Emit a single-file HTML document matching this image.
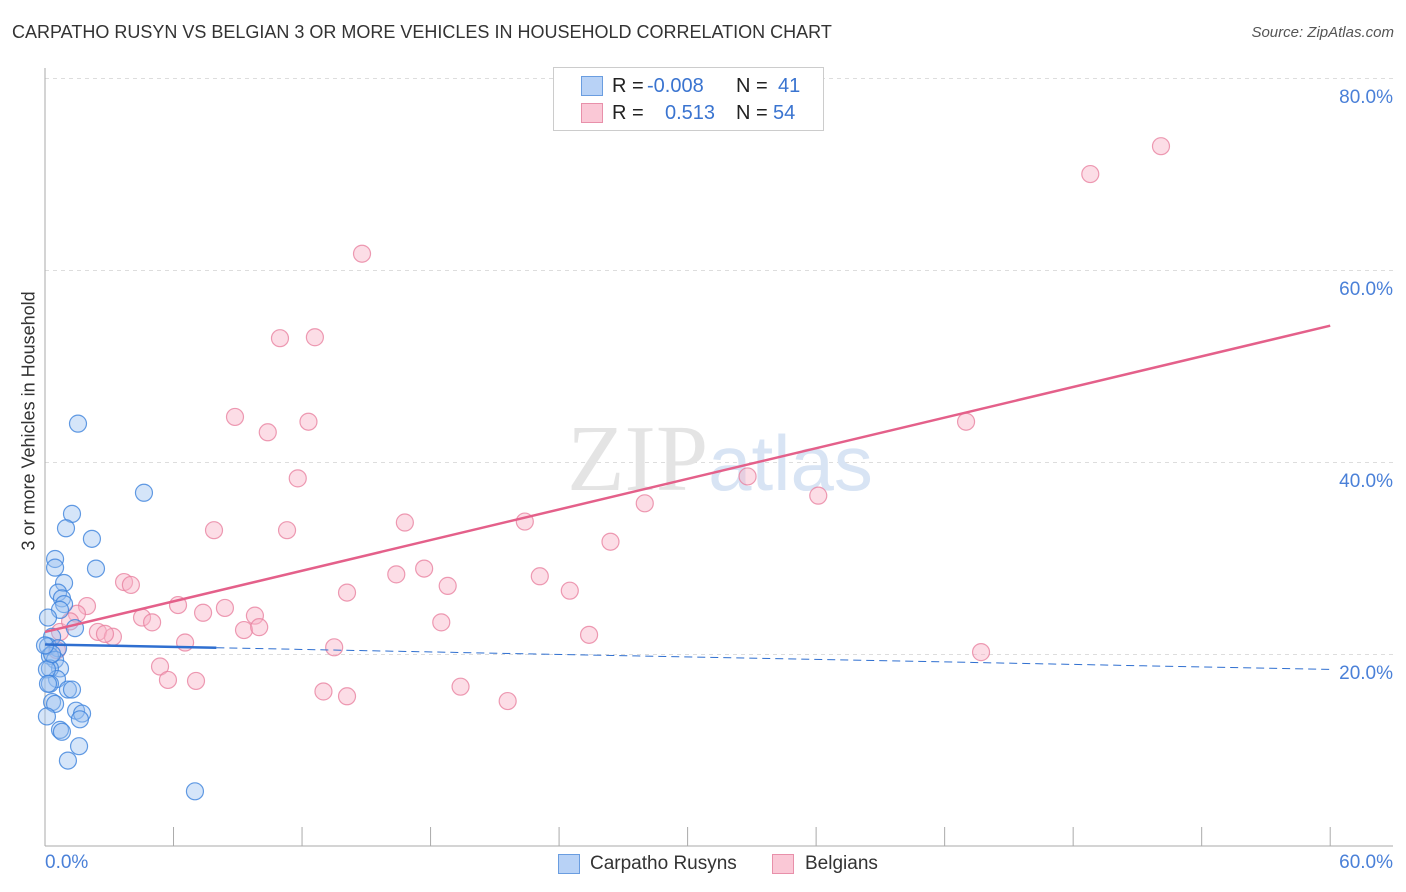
<!DOCTYPE html>
<html><head><meta charset="utf-8"><style>
body{margin:0;background:#fff;font-family:"Liberation Sans",sans-serif;}
#wrap{position:relative;width:1406px;height:892px;overflow:hidden;}
.t{position:absolute;white-space:nowrap;}
</style></head><body>
<div id="wrap">
<div class="t" style="left:12px;top:22px;font-size:18px;color:#333;">CARPATHO RUSYN VS BELGIAN 3 OR MORE VEHICLES IN HOUSEHOLD CORRELATION CHART</div>
<div class="t" style="right:12px;top:24px;font-size:15px;color:#555;font-style:italic;">Source: ZipAtlas.com</div>
<svg id="svg" width="1406" height="892" style="position:absolute;left:0;top:0"></svg>
</div>
<script>
const blueX=[1.54,4.62,1.26,0.98,2.19,0.47,0.47,2.38,0.89,0.61,0.79,0.89,0.70,0.14,1.40,0.33,0.14,0.61,0.23,0.47,0.70,0.23,0.56,1.07,1.26,0.33,0.47,0.09,1.45,1.73,1.63,0.70,0.79,1.59,1.07,7.00,0.09,0.33,0.00,0.23,0.14];
const blueY=[44.1,36.9,34.7,33.2,32.1,30.0,29.1,29.0,27.5,26.5,25.9,25.3,24.7,23.9,22.8,21.9,20.9,20.7,19.9,19.5,18.6,18.6,17.5,16.4,16.4,15.1,14.9,13.6,14.2,13.9,13.3,12.2,12.0,10.5,9.0,5.8,18.5,20.1,21.0,17.0,17.0];
const pinkX=[14.8,48.8,52.1,10.97,12.6,8.87,10.4,12.3,43.0,11.8,7.89,11.3,16.8,22.4,32.8,28.0,36.1,26.4,17.7,16.4,18.8,23.1,24.5,14.1,3.69,4.01,1.96,1.49,6.21,7.38,8.40,9.80,4.53,5.00,9.29,10.0,2.47,3.17,2.80,6.54,13.5,18.5,25.4,43.7,5.37,5.74,7.05,13.0,14.1,19.4,21.6,0.70,0.56,1.17];
const pinkY=[61.8,70.1,73.0,53.0,53.1,44.8,43.2,44.3,44.3,38.4,33.0,33.0,33.8,33.9,38.6,35.8,36.6,31.8,29.0,28.4,27.2,28.2,26.7,26.5,27.6,27.3,25.1,24.3,25.2,24.4,24.9,24.1,23.9,23.4,22.6,22.9,22.4,21.9,22.2,21.3,20.8,23.4,22.1,20.3,18.8,17.4,17.3,16.2,15.7,16.7,15.2,22.4,20.5,23.5];
const pinkTrend=[22.4,54.3];
const blueTrend=[21.1,18.5];
const blueSolidEnd=8.0;
const xTicks=[0,6,12,18,24,30,36,42,48,54,60];
const yTicks=[20,40,60,80];
const yTickLabels=["20.0%","40.0%","60.0%","80.0%"];
const X=v=>45+v*21.42, Y=v=>847-v*9.6;
const NS="http://www.w3.org/2000/svg",svg=document.getElementById('svg');
function mk(t,a){const e=document.createElementNS(NS,t);for(const k in a)e.setAttribute(k,a[k]);svg.appendChild(e);return e;}
yTicks.forEach((v,i)=>{
 let g=mk('line',{x1:45,x2:1393,y1:Y(v)-0.5,y2:Y(v)-0.5,stroke:'#ddd','stroke-dasharray':'4,4'});
 
 
 let t=mk('text',{x:1393,y:Y(v)+24,'text-anchor':'end','font-size':19,fill:'#4a80d8','font-family':'Liberation Sans'});
 t.textContent=yTickLabels[i];
 
 
});
let ax=mk('line',{x1:45,x2:45,y1:68,y2:846,stroke:'#aaa'});


let bx=mk('line',{x1:45,x2:1393,y1:846,y2:846,stroke:'#aaa'});


xTicks.forEach(v=>{
 let l=mk('line',{x1:X(v),x2:X(v),y1:827,y2:846,stroke:'#aaa'});
 
 
});
let wm=mk('text',{x:720,y:490,'text-anchor':'middle','font-size':94,fill:'#e4e4e4','font-family':'Liberation Serif'});
wm.innerHTML='ZIP<tspan font-family="Liberation Sans" fill="#d8e4f4" font-size="78">atlas</tspan>';


pinkX.forEach((x,i)=>{
 let c=mk('circle',{cx:X(x),cy:Y(pinkY[i]),r:8.5,fill:'rgba(248,180,200,0.45)',stroke:'rgba(232,130,160,0.8)','stroke-width':1.2});
 
 
});
blueX.forEach((x,i)=>{
 let c=mk('circle',{cx:X(x),cy:Y(blueY[i]),r:8.5,fill:'rgba(150,190,240,0.4)',stroke:'rgba(60,130,220,0.8)','stroke-width':1.2});
 
 
});
const bAt=x=>blueTrend[0]+(blueTrend[1]-blueTrend[0])*x/60;
let pl=mk('line',{x1:X(0),y1:Y(pinkTrend[0]),x2:X(60),y2:Y(pinkTrend[1]),stroke:'#e4608a','stroke-width':2.5});


let bl=mk('line',{x1:X(0),y1:Y(bAt(0)),x2:X(blueSolidEnd),y2:Y(bAt(blueSolidEnd)),stroke:'#2f6fd0','stroke-width':2.5});


let bd=mk('line',{x1:X(blueSolidEnd),y1:Y(bAt(blueSolidEnd)),x2:X(60),y2:Y(bAt(60)),stroke:'#2f6fd0','stroke-width':1,'stroke-dasharray':'8,5'});


</script>
<div class="t" style="left:45px;top:852px;font-size:19px;color:#4a80d8;">0.0%</div>
<div class="t" style="right:13px;top:852px;font-size:19px;color:#4a80d8;">60.0%</div>
<div class="t" style="left:-66px;top:445px;font-size:18px;color:#333;transform:rotate(-90deg);transform-origin:center;width:190px;">3 or more Vehicles in Household</div>
<div style="position:absolute;left:553px;top:67px;width:269px;height:62px;border:1px solid #ccc;background:#fff;">
 <div style="position:absolute;left:27px;top:8px;width:20px;height:18px;background:#b8d2f6;border:1px solid #6a9de0;"></div>
 <div style="position:absolute;left:27px;top:35px;width:20px;height:18px;background:#fac8d6;border:1px solid #e890aa;"></div>
 <div class="t" style="left:58px;top:7px;font-size:20px;color:#222;">R =</div>
 <div class="t" style="left:93px;top:7px;font-size:20px;color:#3a74d0;">-0.008</div>
 <div class="t" style="left:182px;top:7px;font-size:20px;color:#222;">N =</div>
 <div class="t" style="left:224px;top:7px;font-size:20px;color:#3a74d0;">41</div>
 <div class="t" style="left:58px;top:34px;font-size:20px;color:#222;">R =</div>
 <div class="t" style="left:111px;top:34px;font-size:20px;color:#3a74d0;">0.513</div>
 <div class="t" style="left:182px;top:34px;font-size:20px;color:#222;">N =</div>
 <div class="t" style="left:219px;top:34px;font-size:20px;color:#3a74d0;">54</div>
</div>
<div style="position:absolute;left:558px;top:854px;width:20px;height:18px;background:#b8d2f6;border:1px solid #6a9de0;"></div>
<div class="t" style="left:590px;top:853px;font-size:19px;color:#333;">Carpatho Rusyns</div>
<div style="position:absolute;left:772px;top:854px;width:20px;height:18px;background:#fac8d6;border:1px solid #e890aa;"></div>
<div class="t" style="left:805px;top:853px;font-size:19px;color:#333;">Belgians</div>
</body></html>
